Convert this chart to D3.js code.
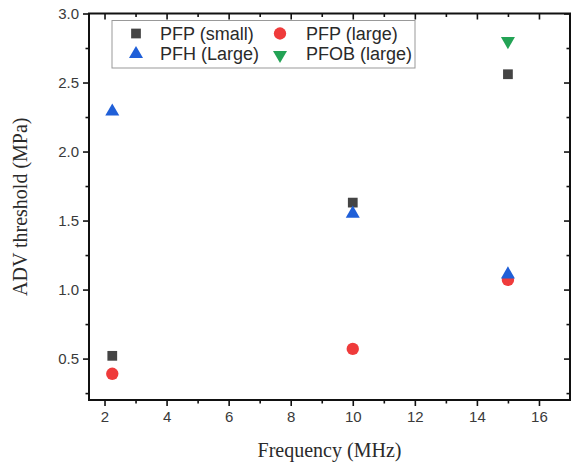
<!DOCTYPE html>
<html>
<head>
<meta charset="utf-8">
<script src="https://cdn.jsdelivr.net/npm/d3@7/dist/d3.min.js"></script>
<style>
  html, body { margin: 0; padding: 0; background: #fff; }
  svg { display: block; }
</style>
</head>
<body>
<svg id="chart" width="571" height="467"></svg>
<script>
// Frequencies (MHz) at which thresholds were measured
const pfpSmallFreq = [2.25, 10, 15];
const pfpSmallVal  = [0.52, 1.63, 2.56];
const pfpLargeFreq = [2.25, 10, 15];
const pfpLargeVal  = [0.39, 0.57, 1.07];
const pfhLargeFreq = [2.25, 10, 15];
const pfhLargeVal  = [2.29, 1.55, 1.11];
const pfobLargeFreq = [15];
const pfobLargeVal  = [2.80];

const xTicks = [2, 4, 6, 8, 10, 12, 14, 16];
const yTicks = [0.5, 1.0, 1.5, 2.0, 2.5, 3.0];

const series = [
  { name: "PFP (small)", freq: pfpSmallFreq, val: pfpSmallVal, symbol: d3.symbolSquare, size: 95, color: "#444444", rot: 0 },
  { name: "PFP (large)", freq: pfpLargeFreq, val: pfpLargeVal, symbol: d3.symbolCircle, size: 120, color: "#ef3b3b", rot: 0 },
  { name: "PFH (Large)", freq: pfhLargeFreq, val: pfhLargeVal, symbol: d3.symbolTriangle, size: 85, color: "#1f5fd8", rot: 0 },
  { name: "PFOB (large)", freq: pfobLargeFreq, val: pfobLargeVal, symbol: d3.symbolTriangle, size: 85, color: "#23a355", rot: 180 }
];

const svg = d3.select("#chart");
const plotL = 89, plotR = 570, plotT = 13.5, plotB = 400;

const x = d3.scaleLinear().domain([1.5, 17]).range([plotL, plotR]);
const y = d3.scaleLinear().domain([0.2, 3.0]).range([plotB, plotT]);

const tickFont = "'Liberation Sans', Arial, sans-serif";
const titleFont = "'Liberation Serif', 'Times New Roman', serif";

const xMinor = d3.range(3, 17, 2);
const yMinor = d3.range(0.25, 3.0, 0.5);

// bottom axis
svg.append("g").attr("transform", `translate(0,${plotB})`)
  .call(d3.axisBottom(x).tickValues(xTicks).tickSize(6).tickPadding(5).tickFormat(d3.format("d")));
svg.append("g").attr("transform", `translate(0,${plotB})`)
  .call(d3.axisBottom(x).tickValues(xMinor).tickSize(3.5).tickFormat(""));
// left axis
svg.append("g").attr("transform", `translate(${plotL},0)`)
  .call(d3.axisLeft(y).tickValues(yTicks).tickSize(6).tickPadding(4).tickFormat(d3.format(".1f")));
svg.append("g").attr("transform", `translate(${plotL},0)`)
  .call(d3.axisLeft(y).tickValues(yMinor).tickSize(3.5).tickFormat(""));
// top mirror (inward ticks)
svg.append("g").attr("transform", `translate(0,${plotT})`)
  .call(d3.axisBottom(x).tickValues(xTicks).tickSize(6).tickFormat(""));
svg.append("g").attr("transform", `translate(0,${plotT})`)
  .call(d3.axisBottom(x).tickValues(xMinor).tickSize(3.5).tickFormat(""));
// right mirror (inward ticks)
svg.append("g").attr("transform", `translate(${plotR},0)`)
  .call(d3.axisLeft(y).tickValues(yTicks).tickSize(6).tickFormat(""));
svg.append("g").attr("transform", `translate(${plotR},0)`)
  .call(d3.axisLeft(y).tickValues(yMinor).tickSize(3.5).tickFormat(""));

svg.selectAll(".domain").remove();
svg.selectAll(".tick line").attr("stroke", "#111").attr("stroke-width", 1.6);
svg.selectAll(".tick text").attr("fill", "#3a3a3a").style("font-family", tickFont).style("font-size", "15px");

// frame
svg.append("rect")
  .attr("x", plotL).attr("y", plotT)
  .attr("width", plotR - plotL).attr("height", plotB - plotT)
  .attr("fill", "none").attr("stroke", "#111").attr("stroke-width", 2);

// markers
series.forEach(s => {
  const sym = d3.symbol().type(s.symbol).size(s.size);
  svg.append("g").selectAll("path")
    .data(s.freq.map((f, i) => ({ f, v: s.val[i] })))
    .join("path")
    .attr("d", sym)
    .attr("fill", s.color)
    .attr("transform", d => `translate(${x(d.f)},${y(d.v)}) rotate(${s.rot})`);
});

// legend
const lg = svg.append("g");
lg.append("rect").attr("x", 112).attr("y", 20.5).attr("width", 303).attr("height", 47.5)
  .attr("fill", "#fff").attr("stroke", "#999").attr("stroke-width", 1);
const legPos = [
  { sx: 136, tx: 160, cy: 33.5 },
  { sx: 280, tx: 306, cy: 33.5 },
  { sx: 136, tx: 160, cy: 54 },
  { sx: 280, tx: 306, cy: 54 }
];
series.forEach((s, i) => {
  const p = legPos[i];
  lg.append("path")
    .attr("d", d3.symbol().type(s.symbol).size(s.size)())
    .attr("fill", s.color)
    .attr("transform", `translate(${p.sx},${p.cy + (s.rot ? 1 : 0)}) rotate(${s.rot})`);
  lg.append("text").attr("x", p.tx).attr("y", p.cy).attr("dy", "0.36em")
    .style("font-family", tickFont).style("font-size", "18px").attr("fill", "#2a2a2a")
    .text(s.name);
});

// axis titles
svg.append("text").attr("x", (plotL + plotR) / 2).attr("y", 457)
  .attr("text-anchor", "middle").style("font-family", titleFont).style("font-size", "20px")
  .attr("fill", "#2a2a2a").text("Frequency (MHz)");
svg.append("text").attr("transform", `translate(27,${(plotT + plotB) / 2}) rotate(-90)`)
  .attr("text-anchor", "middle").style("font-family", titleFont).style("font-size", "20px")
  .attr("fill", "#2a2a2a").text("ADV threshold (MPa)");
</script>
</body>
</html>
